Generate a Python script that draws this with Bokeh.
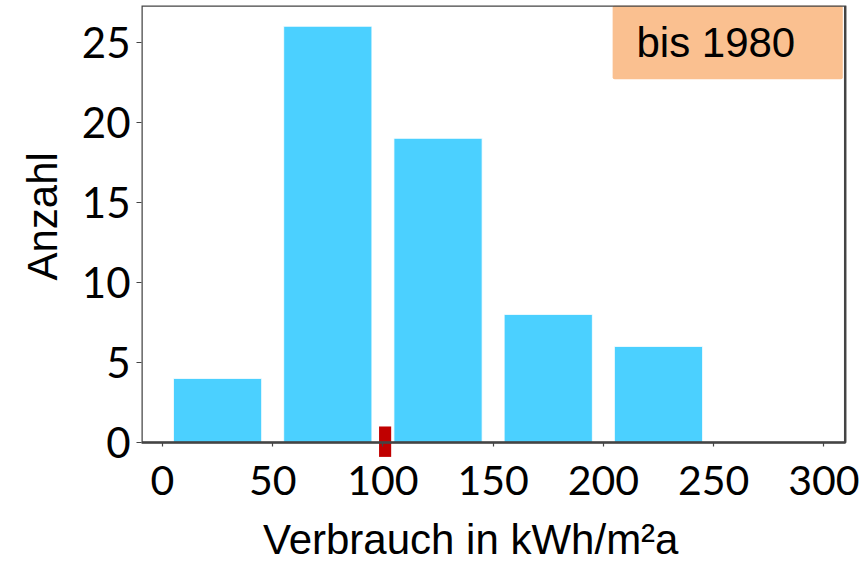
from bokeh.plotting import figure
from bokeh.models import Range1d, BoxAnnotation, Label, Title, FixedTicker, ColumnDataSource
from bokeh.embed import file_html
from bokeh.resources import INLINE

# ---- data ----
bin_left = [0, 50, 100, 150, 200, 250]
counts = [4, 26, 19, 8, 6, 0]
bin_width = 50
rel_width = 0.8
marker_x = [101]
marker_top = [1.0]
marker_bottom = [-0.9]
x_ticks = [0, 50, 100, 150, 200, 250, 300]
y_ticks = [0, 5, 10, 15, 20, 25]
legend_text = "bis 1980"
x_title = "Verbrauch in kWh/m²a"
y_title = "Anzahl"

BAR = "#4BD0FF"
RED = "#C00000"
ORANGE = "#FAC090"
FRAME = "#444444"

AX0, AX1 = -9.5, 309.7        # visible axes box (x)
X0, X1 = -9.5, 318.9          # plotting area incl. room for the last tick label
Y0, Y1 = -7.56, 27.3

centers = [b + bin_width / 2 for b in bin_left]
src = ColumnDataSource(dict(x=centers, top=counts))

p = figure(frame_width=724, frame_height=558, output_backend="svg", toolbar_location=None,
           x_range=Range1d(X0, X1), y_range=Range1d(Y0, Y1),
           min_border_left=141, min_border_right=0, min_border_top=5, min_border_bottom=0)
p.outline_line_color = None
p.xgrid.visible = False
p.ygrid.visible = False
p.background_fill_color = "white"
p.border_fill_color = "white"

p.vbar(x="x", top="top", bottom=0, width=bin_width * rel_width, source=src,
       fill_color=BAR, line_color="white", line_width=0.8)
p.vbar(x=marker_x, top=marker_top, bottom=marker_bottom, width=5.5,
       fill_color=RED, line_color=None)

# axes box from y=0 upward
p.add_layout(BoxAnnotation(left=AX0, right=AX1, top=Y1, bottom=0, fill_alpha=0,
                           line_color=FRAME, line_alpha=1, line_width=2.5, level="overlay"))

# legend-like box
p.add_layout(BoxAnnotation(left=204.2, right=308.6, top=Y1, bottom=22.7, fill_color=ORANGE, fill_alpha=1,
                           line_color=None, border_radius=2, level="annotation"))
p.add_layout(Label(x=215, y=25.0, text=legend_text, text_font="Liberation Sans",
                   text_font_size="42px", text_color="black", text_baseline="alphabetic"))

# axes
xa = p.xaxis[0]
xa.fixed_location = 0
xa.bounds = (AX0, AX1)
xa.ticker = FixedTicker(ticks=x_ticks)
xa.minor_tick_line_color = None
xa.major_tick_line_color = FRAME
xa.major_tick_line_width = 1.2
xa.major_tick_in = 0
xa.major_tick_out = 4
xa.axis_line_color = FRAME
xa.axis_line_width = 1.5
xa.major_label_text_font = "Lato"
xa.major_label_text_font_size = "41px"
xa.major_label_standoff = 20
xa.major_label_text_color = "black"

ya = p.yaxis[0]
ya.ticker = FixedTicker(ticks=y_ticks)
ya.minor_tick_line_color = None
ya.major_tick_in = 0
ya.major_tick_out = 5
ya.axis_line_color = None
ya.major_tick_line_color = FRAME
ya.major_tick_line_width = 1.2
ya.major_label_text_font = "Lato"
ya.major_label_text_font_size = "42px"
ya.major_label_standoff = 6
ya.major_label_text_color = "black"

# x axis title (placed under the tick labels, inside the extended frame)
p.add_layout(Label(x=45.6, y=-6.05, text=x_title, text_font="Liberation Sans",
                   text_font_size="42px", text_color="black", text_baseline="alphabetic"))
p.add_layout(Title(text=y_title, align="left", offset=283, vertical_align="top", text_font="Liberation Sans",
                   text_font_size="42px", text_font_style="normal", text_color="black", standoff=21), "left")

open("out.html", "w").write(file_html(p, INLINE))
